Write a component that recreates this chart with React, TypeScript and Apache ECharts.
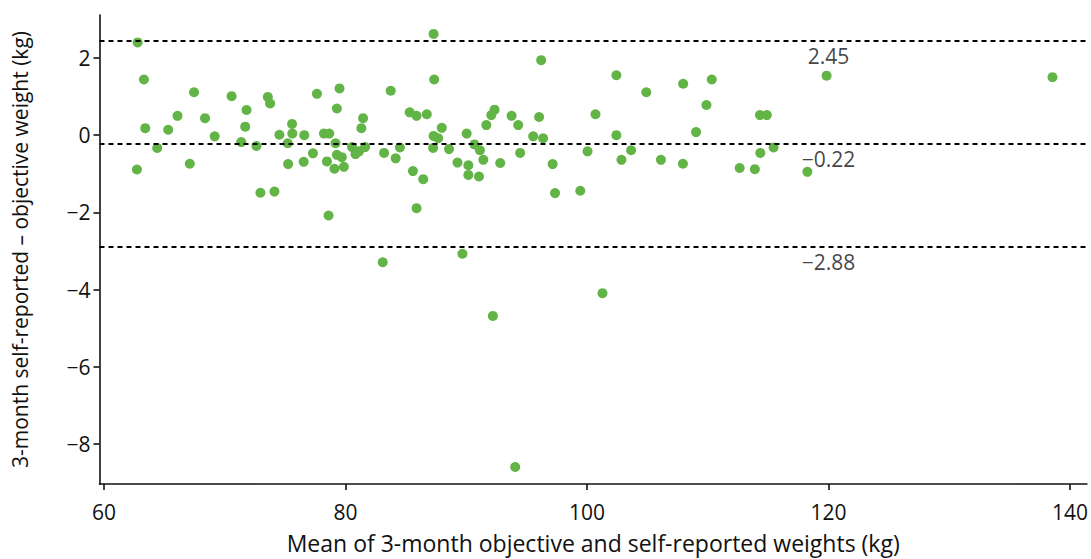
import React, { useEffect, useRef } from "react";
import * as echarts from "echarts";

const meanWeights = [
  62.78, 63.3, 67.45, 70.56, 73.56, 73.75, 71.8, 66.08, 68.36, 63.41, 65.31, 71.69, 75.57, 74.52, 75.59,
  69.16, 71.36, 75.21, 72.62, 64.4, 67.1, 75.24, 76.53, 62.72, 72.95, 74.11, 87.29, 87.34, 77.63, 79.5,
  83.74, 79.28, 81.45, 81.31, 85.31, 85.88, 86.73, 87.97, 76.58, 78.21, 78.65, 79.17, 87.29, 87.67, 80.54,
  81.62, 80.82, 81.12, 84.5, 87.25, 88.57, 77.3, 79.28, 79.69, 78.46, 79.08, 79.86, 83.19, 84.15, 85.58,
  86.43, 78.59, 85.88, 96.2, 92.34, 92.07, 93.75, 96.03, 100.7, 91.66, 94.3, 90.03, 95.54, 96.36, 90.67,
  91.13, 100.04, 89.27, 90.17, 91.41, 92.81, 94.46, 97.15, 90.17, 91.05, 97.35, 99.44, 102.43, 104.91,
  107.96, 110.33, 109.89, 114.32, 114.89, 109.03, 102.43, 119.84, 102.85, 103.65, 106.12, 107.94, 112.64,
  113.9, 114.35, 115.45, 118.25, 138.55, 83.08, 89.68, 101.28, 92.2, 94.05,
];

const differences = [
  2.4, 1.44, 1.11, 1.01, 0.99, 0.82, 0.65, 0.5, 0.44, 0.18, 0.14, 0.22, 0.29, 0.01, 0.04,
  -0.03, -0.18, -0.21, -0.28, -0.33, -0.74, -0.75, -0.69, -0.89, -1.49, -1.46, 2.62, 1.44, 1.07, 1.21,
  1.15, 0.69, 0.44, 0.18, 0.59, 0.5, 0.54, 0.19, 0.0, 0.04, 0.04, -0.21, -0.02, -0.08, -0.31,
  -0.31, -0.49, -0.42, -0.32, -0.33, -0.36, -0.47, -0.51, -0.57, -0.68, -0.87, -0.82, -0.46, -0.6, -0.93,
  -1.14, -2.08, -1.89, 1.94, 0.66, 0.52, 0.5, 0.47, 0.54, 0.26, 0.26, 0.04, -0.03, -0.08, -0.24,
  -0.39, -0.42, -0.71, -0.78, -0.64, -0.72, -0.46, -0.75, -1.03, -1.07, -1.5, -1.44, 1.55, 1.11,
  1.33, 1.44, 0.78, 0.52, 0.52, 0.08, 0.0, 1.54, -0.64, -0.39, -0.64, -0.74, -0.85,
  -0.88, -0.46, -0.32, -0.95, 1.5, -3.29, -3.07, -4.09, -4.68, -8.59,
];

const referenceLines = [2.45, -0.22, -2.88];
const referenceLabelX = 120;
const xTicks = [60, 80, 100, 120, 140];
const yTicks = [-8, -6, -4, -2, 0, 2];

const FONT = "'Open Sans', 'Noto Sans', sans-serif";
const TEXT = "#111111";
const minus = (s: string) => s.replace("-", "\u2212");

export default function App() {
  const ref = useRef<HTMLDivElement>(null);

  useEffect(() => {
    if (!ref.current) return;
    const chart = echarts.init(ref.current, undefined, { renderer: "svg" });
    const points = meanWeights.map((x, i) => [x, differences[i]]);
    chart.setOption({
      animation: false,
      backgroundColor: "#ffffff",
      textStyle: { fontFamily: FONT },
      grid: { left: 99.5, right: 0, top: 15, bottom: 71, containLabel: false },
      xAxis: {
        type: "value",
        min: 59.62,
        max: 141.4,
        name: "Mean of 3-month objective and self-reported weights (kg)",
        nameLocation: "middle",
        nameGap: 47,
        nameTextStyle: { fontSize: 23, color: TEXT, fontFamily: FONT },
        axisLine: { show: true, onZero: false, lineStyle: { color: "#111111", width: 1.6 } },
        axisTick: { show: true, length: 6, customValues: xTicks, lineStyle: { color: "#111111", width: 1.6 } },
        axisLabel: {
          customValues: xTicks,
          fontSize: 21,
          color: TEXT,
          margin: 17,
          fontFamily: FONT,
          formatter: (v: number) => minus(String(v)),
        },
        splitLine: { show: false },
      },
      yAxis: {
        type: "value",
        min: -9.03,
        max: 3.11,
        name: "3-month self-reported \u2013 objective weight (kg)",
        nameLocation: "middle",
        nameGap: 69,
        nameTextStyle: { fontSize: 21, color: TEXT, fontFamily: FONT },
        axisLine: { show: true, onZero: false, lineStyle: { color: "#111111", width: 1.6 } },
        axisTick: { show: true, length: 6, customValues: yTicks, lineStyle: { color: "#111111", width: 1.6 } },
        axisLabel: {
          customValues: yTicks,
          fontSize: 21,
          color: TEXT,
          margin: 9,
          fontFamily: FONT,
          formatter: (v: number) => minus(String(v)),
        },
        splitLine: { show: false },
      },
      series: [
        {
          type: "scatter",
          data: points,
          symbol: "circle",
          symbolSize: 10,
          itemStyle: { color: "#62b446", opacity: 1 },
          silent: true,
          markLine: {
            silent: true,
            symbol: "none",
            label: { show: false },
            lineStyle: { color: "#000000", type: [5, 4], width: 2 },
            data: referenceLines.map((v) => ({ yAxis: v })),
          },
          z: 3,
        },
        {
          type: "scatter",
          data: referenceLines.map((v) => [referenceLabelX, v]),
          symbolSize: 0,
          silent: true,
          label: {
            show: true,
            position: "bottom",
            distance: 5,
            fontSize: 21,
            color: TEXT,
            fontFamily: FONT,
            formatter: (p: any) => minus(p.value[1].toFixed(2)),
          },
          z: 4,
        },
      ],
    });
    return () => chart.dispose();
  }, []);

  return (
    <div
      ref={ref}
      style={{ position: "fixed", left: 0, top: 0, width: 1091, height: 559 }}
    />
  );
}
